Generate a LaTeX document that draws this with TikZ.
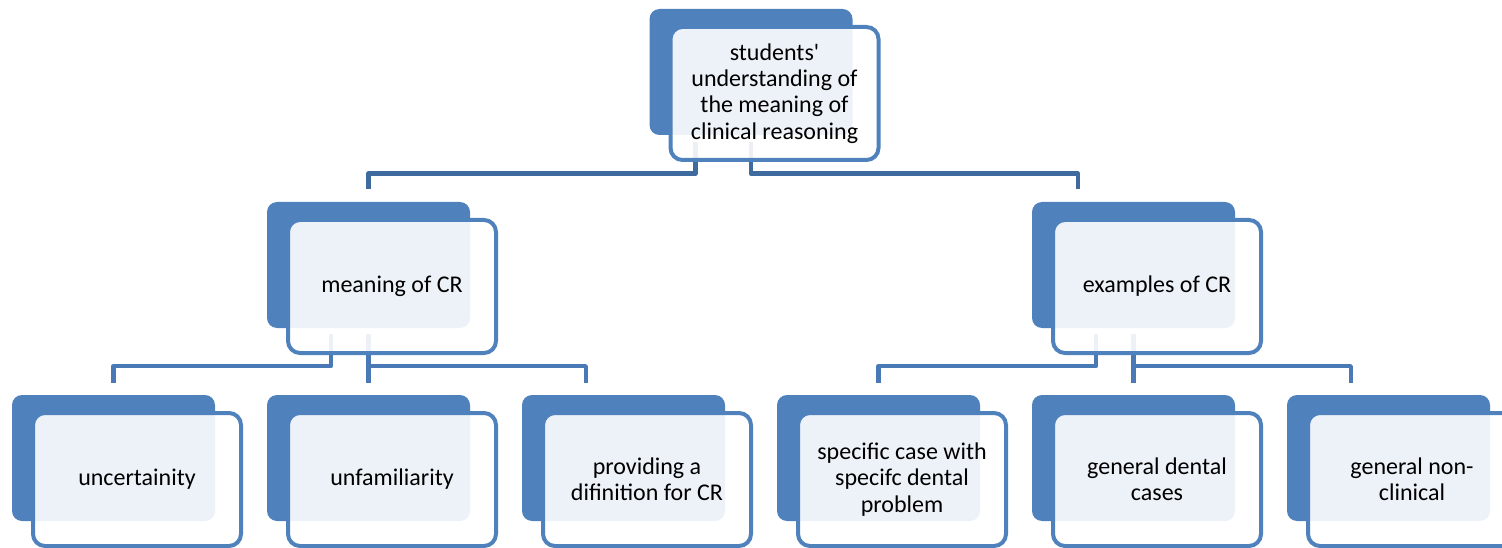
\documentclass[tikz,border=0pt]{standalone}
\usepackage{fontspec}
\setmainfont{Carlito}[Ligatures=TeXOff]
\usetikzlibrary{calc}
\definecolor{boxblue}{HTML}{4F81BD}
\definecolor{linkdark}{HTML}{3F6A9E}
\definecolor{linkblue}{HTML}{4A7AB5}

\begin{document}
\begin{tikzpicture}[x=1pt,y=-1pt,
  backbox/.style={rectangle, rounded corners=10pt, fill=boxblue,
    minimum width=203pt, minimum height=126pt, inner sep=0pt},
  frontbox/.style={rectangle, rounded corners=12pt, draw=boxblue, line width=4pt,
    fill=white, fill opacity=0.9, text opacity=1,
    minimum width=208pt, minimum height=133pt, inner sep=0pt,
    align=center, font=\fontsize{24}{26.3}\selectfont},
  linktop/.style={draw=linkdark, line width=4.5pt, line join=round},
  linkmid/.style={draw=linkblue, line width=4.5pt, line join=round},
]
\useasboundingbox (0,0) rectangle (1502,548);
\clip (0,0) rectangle (1502,548);

% solid back panels
\node[backbox] (root-bk)  at (751,72) {};
\node[backbox] (mean-bk)  at (368.5,265) {};
\node[backbox] (exam-bk)  at (1133.5,265) {};
\node[backbox] (unc-bk)   at (113.5,458) {};
\node[backbox] (unf-bk)   at (368.5,458) {};
\node[backbox] (prov-bk)  at (623.5,458) {};
\node[backbox] (spec-bk)  at (878.5,458) {};
\node[backbox] (gdent-bk) at (1133.5,458) {};
\node[backbox] (gnon-bk)  at (1388.5,458) {};

% top-level connectors
\draw[linktop] ($(root-bk.south west)+(46,7)$) -- ++(0,31.5) -| ($(mean-bk.north)+(0,-13)$);
\draw[linktop] ($(root-bk.south)+(0,7)$) -- ++(0,31.5) -| ($(exam-bk.north west)+(46,-13)$);

% second-level connectors
\draw[linkmid] ($(mean-bk.south west)+(64,6)$) -- ++(0,32) -| ($(unc-bk.north)+(0,-12)$);
\draw[linkmid] ($(mean-bk.south)+(0,6)$) -- ($(unf-bk.north)+(0,-12)$);
\draw[linkmid] ($(mean-bk.south)+(0,38)$) -| ($(prov-bk.north west)+(64,-12)$);
\draw[linkmid] ($(exam-bk.south west)+(64,6)$) -- ++(0,32) -| ($(spec-bk.north)+(0,-12)$);
\draw[linkmid] ($(exam-bk.south)+(0,6)$) -- ($(gdent-bk.north)+(0,-12)$);
\draw[linkmid] ($(exam-bk.south)+(0,38)$) -| ($(gnon-bk.north west)+(64,-12)$);

% framed front panels with the labels
\node[frontbox] (root)  at ($(root-bk)+(23.5,21.5)$) {students'\\understanding of\\the meaning of\\clinical reasoning};
\node[frontbox] (mean)  at ($(mean-bk)+(23.5,21.5)$) {meaning of CR};
\node[frontbox] (exam)  at ($(exam-bk)+(23.5,21.5)$) {examples of CR};
\node[frontbox] (unc)   at ($(unc-bk)+(23.5,21.5)$) {uncertainity};
\node[frontbox] (unf)   at ($(unf-bk)+(23.5,21.5)$) {unfamiliarity};
\node[frontbox] (prov)  at ($(prov-bk)+(23.5,21.5)$) {providing a\\difinition for CR};
\node[frontbox] (spec)  at ($(spec-bk)+(23.5,21.5)$) {specific case with\\specifc dental\\problem};
\node[frontbox] (gdent) at ($(gdent-bk)+(23.5,21.5)$) {general dental\\cases};
\node[frontbox] (gnon)  at ($(gnon-bk)+(23.5,21.5)$) {general non-\\clinical};
\end{tikzpicture}
\end{document}
